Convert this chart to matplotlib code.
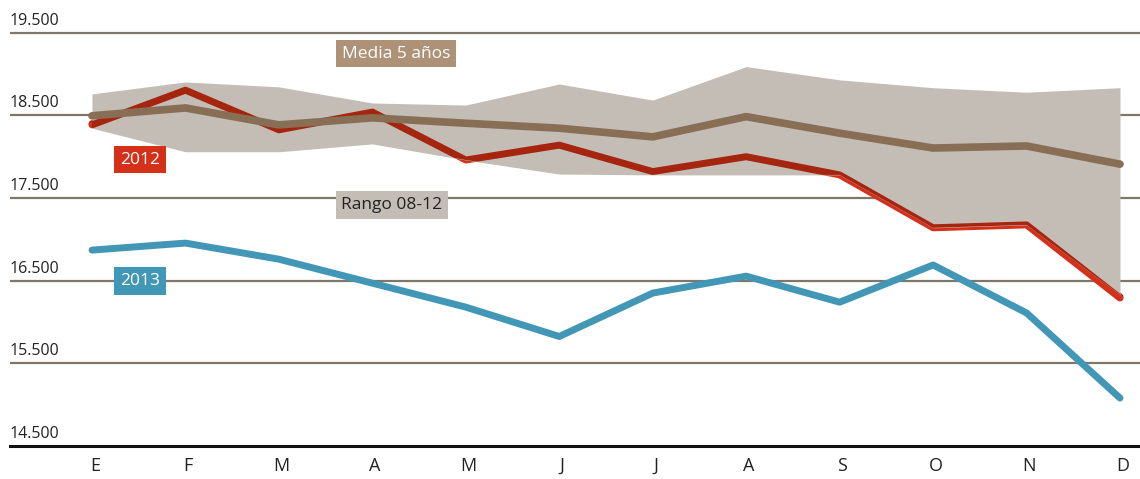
import matplotlib.pyplot as plt
import matplotlib.patheffects as pe
from matplotlib.transforms import ScaledTranslation, blended_transform_factory
import numpy as np

# Data
months = ["E", "F", "M", "A", "M", "J", "J", "A", "S", "O", "N", "D"]
y2013 = [16870, 16955, 16760, 16470, 16180, 15825, 16350, 16555, 16240, 16690, 16110, 15080]
y2012 = [18385, 18805, 18325, 18540, 17960, 18140, 17820, 18000, 17780, 17140, 17175, 16290]
media5 = [18495, 18590, 18385, 18470, 18405, 18345, 18240, 18485, 18285, 18105, 18130, 17910]
rango_max = [18760, 18905, 18845, 18650, 18625, 18880, 18685, 19090, 18930, 18835, 18780, 18835]
rango_min = [18345, 18060, 18060, 18155, 17960, 17790, 17780, 17780, 17780, 17140, 17175, 16330]
yticks = [14500, 15500, 16500, 17500, 18500, 19500]

# Colors
c_blue = "#4397b6"
c_red = "#d4301a"
c_red_dark = "#a5250f"
c_brown = "#876e55"
c_brown_box = "#ad9277"
c_band = "#c4bdb6"
c_grid = "#7f7869"

plt.rcParams['font.family'] = ['Open Sans', 'DejaVu Sans']

fig = plt.figure(figsize=(11.4, 4.79), dpi=100)
ax = fig.add_axes([10 / 1140, 1 - 446 / 479, 1130 / 1140, (446 - 20) / 479])
x = np.arange(len(months))
ax.set_xlim(-0.8775, 11.214)
ax.set_ylim(14500, 19654)

# Grid lines
for v in yticks[1:]:
    ax.axhline(v, color=c_grid, lw=1.6, zorder=1)
ax.axhline(14500, color="#111111", lw=2.2, zorder=1, clip_on=False)

# Y labels above the grid lines
trans = blended_transform_factory(ax.transAxes, ax.transData)
off = ScaledTranslation(0, 3 / 72, fig.dpi_scale_trans)
for v in yticks:
    ax.text(0, v, f"{v // 1000}.{v % 1000:03d}", transform=trans + off,
            ha="left", va="bottom", fontsize=11.5, color="#222222")

lw = 5
style = dict(solid_capstyle="round", solid_joinstyle="round")

# Lines
ax.plot(x, y2013, color=c_blue, lw=lw, zorder=3, **style)
ax.plot(x, y2012, color=c_red, lw=lw, zorder=2,
        path_effects=[pe.Stroke(offset=(0, 0.8), linewidth=lw, foreground="#8e1e0a"), pe.Normal()],
        **style)
band = ax.fill_between(x, rango_min, rango_max, color=c_band, lw=0, zorder=2.5)
# red line seen through the band (multiply look)
red_in = ax.plot(x, y2012, color=c_red_dark, lw=lw, zorder=2.6, **style)[0]
red_in.set_clip_path(band.get_paths()[0], ax.transData)
ax.plot(x, media5, color=c_brown, lw=5.5, zorder=2.7, **style)

# Labels in boxes
def box(xp, yp, txt, fc, tc):
    ax.text(xp, yp, txt, ha="center", va="center", fontsize=12.5, color=tc, zorder=5,
            bbox=dict(boxstyle="square,pad=0.34", fc=fc, ec="none"))

box(3.25, 19248, "Media 5 años", c_brown_box, "white")
box(0.514, 17966, "2012", c_red, "white")
box(3.21, 17416, "Rango 08-12", c_band, "#222222")
box(0.514, 16496, "2013", c_blue, "white")

# Month labels
ax.set_xticks(x + 0.03)
ax.set_xticklabels(months, fontsize=13, color="#222222")
ax.tick_params(axis="x", length=0, pad=8)
ax.set_yticks([])
for s in ax.spines.values():
    s.set_visible(False)

fig.savefig("out.png", dpi=100)
